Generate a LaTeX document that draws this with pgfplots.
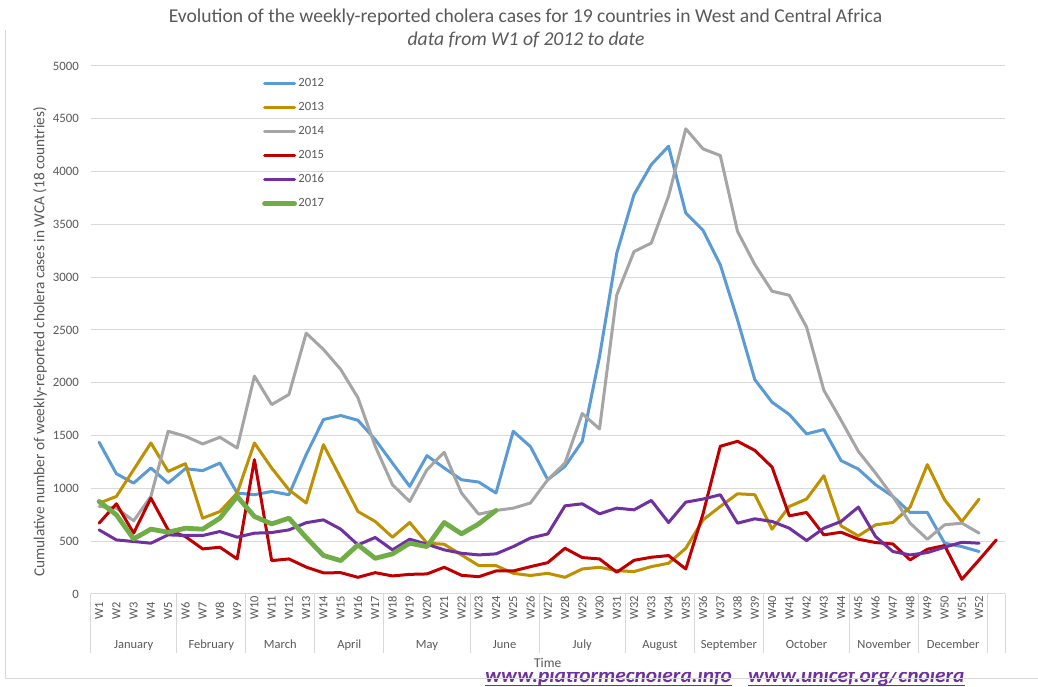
\documentclass[border=0pt]{standalone}
\usepackage{fontspec}
\setmainfont{Carlito}
\usepackage{pgfplots}
\usepackage{pgfplotstable}
\pgfplotsset{compat=1.18}

\definecolor{c12}{HTML}{5B9BD5}
\definecolor{c13}{HTML}{BF9000}
\definecolor{c14}{HTML}{A5A5A5}
\definecolor{c15}{HTML}{C00000}
\definecolor{c16}{HTML}{7030A0}
\definecolor{c17}{HTML}{70AD47}
\definecolor{txt}{HTML}{595959}
\definecolor{gridc}{HTML}{D9D9D9}

\pgfplotstableread{
w y12 y13 y14 y15 y16 y17
1 1437 860 829 671 607 876
2 1139 924 813 854 512 750
3 1050 1177 693 576 497 522
4 1193 1430 924 908 481 614
5 1050 1161 1541 607 560 585
6 1187 1234 1494 544 554 623
7 1168 718 1421 427 554 614
8 1240 781 1484 443 592 718
9 956 956 1383 332 538 924
10 940 1430 2063 1272 576 734
11 971 1193 1794 316 582 664
12 940 987 1889 332 607 718
13 1320 862 2470 255 675 535
14 1652 1414 2316 200 702 365
15 1690 1098 2127 202 614 316
16 1645 781 1858 158 465 465
17 1462 687 1399 202 535 338
18 1240 538 1035 171 418 380
19 1019 677 876 186 519 481
20 1310 481 1177 190 471 449
21 1193 471 1342 253 418 677
22 1082 370 956 177 386 570
23 1060 269 756 164 370 664
24 956 269 791 218 380 791
25 1541 196 813 218 449 nan
26 1395 175 862 259 530 nan
27 1082 196 1082 297 569 nan
28 1209 158 1240 433 835 nan
29 1446 237 1709 345 854 nan
30 2247 253 1563 332 759 nan
31 3228 221 2832 206 813 nan
32 3782 212 3243 319 797 nan
33 4066 259 3323 348 886 nan
34 4240 291 3766 364 677 nan
35 3607 433 4405 237 870 nan
36 3443 702 4215 760 899 nan
37 3117 829 4152 1399 940 nan
38 2595 949 3433 1446 671 nan
39 2030 940 3120 1360 712 nan
40 1816 614 2867 1202 687 nan
41 1700 829 2829 740 623 nan
42 1516 899 2528 772 506 nan
43 1557 1120 1930 560 623 nan
44 1263 645 1645 585 687 nan
45 1183 550 1351 519 823 nan
46 1035 655 1145 487 544 nan
47 924 677 924 474 402 nan
48 772 823 671 323 370 nan
49 772 1225 519 424 392 nan
50 481 892 655 459 443 nan
51 449 687 671 139 490 nan
52 402 899 576 323 481 nan
53 nan nan nan 513 nan nan
}\data

\newcommand{\mlab}[2]{\node[anchor=base, inner sep=0pt, font=\fontsize{12.5}{15}\selectfont, text=txt] at ([yshift=-55pt]axis cs:#1,0) {#2};}

\begin{document}
\begin{tikzpicture}[x=1pt,y=1pt]
\clip (0,0) rectangle (1038,687);
\fill[white] (0,0) rectangle (1038,687);
% source links (partly hidden below the chart area)
\node[anchor=base west, inner sep=0pt, text height=10pt, text depth=4pt, font=\fontsize{21.4}{25}\selectfont\bfseries\itshape, text=c16] (u1) at (485,4) {www.platformecholera.info};
\node[anchor=base west, inner sep=0pt, text height=10pt, text depth=4pt, font=\fontsize{21.4}{25}\selectfont\bfseries\itshape, text=c16] (u2) at (748,4) {www.unicef.org/cholera};
\draw[c16, line width=1.5pt] ([yshift=-2.5pt]u1.base west) -- ([yshift=-2.5pt]u1.base east);
\draw[c16, line width=1.5pt] ([yshift=-2.5pt]u2.base west) -- ([yshift=-2.5pt]u2.base east);
\fill[white] (0,15) rectangle (1038,687);
\draw[gridc, line width=1pt] (5,8) -- (1038,8);
\draw[gridc, line width=1pt] (5,8) -- (5,657);
% titles
\node[anchor=base, inner sep=0pt, font=\fontsize{19.6}{23}\selectfont, text=txt] at (525.5,664) {Evolution of the weekly-reported cholera cases for 19 countries in West and Central Africa};
\node[anchor=base, inner sep=0pt, font=\fontsize{19.6}{23}\selectfont\itshape, text=txt] at (526,641) {data from W1 of 2012 to date};
% y label
\node[rotate=90, inner sep=0pt, font=\fontsize{15.3}{18}\selectfont, text=txt] at (40,345) {Cumulative number of weekly-reported cholera cases in WCA (18 countries)};
\begin{axis}[
  at={(90.5pt,93pt)}, anchor=south west,
  scale only axis, width=914.5pt, height=528pt,
  xmin=0.5, xmax=53.5, ymin=0, ymax=5000,
  ytick={0,500,...,5000},
  xtick={1,...,52},
  xticklabels={W1,W2,W3,W4,W5,W6,W7,W8,W9,W10,W11,W12,W13,W14,W15,W16,W17,W18,W19,W20,W21,W22,W23,W24,W25,W26,W27,W28,W29,W30,W31,W32,W33,W34,W35,W36,W37,W38,W39,W40,W41,W42,W43,W44,W45,W46,W47,W48,W49,W50,W51,W52},
  /pgf/number format/assume math mode=true,
  /pgf/number format/1000 sep={},
  axis line style={draw=none},
  major tick length=0pt,
  tick style={draw=none},
  ymajorgrids,
  grid style={gridc, line width=1pt},
  xticklabel style={font=\fontsize{12.4}{14}\selectfont, text=txt, inner sep=0pt, yshift=-26pt, rotate=90, anchor=west},
  yticklabel style={font=\fontsize{12.8}{15}\selectfont, text=txt, inner sep=0pt, anchor=east, xshift=-11.5pt},
  clip=false,
  legend style={at={(0.1875,0.979)}, anchor=north west, draw=none, fill=none,
    inner sep=0pt, row sep=12.1pt, column sep=1.5pt,
    font=\fontsize{12.6}{15}\selectfont, text=txt,
    nodes={inner sep=0pt, text height=9pt, text depth=3pt}},
  legend cell align=left,
  legend image code/.code={\draw[#1] (0pt,0pt) -- (30pt,0pt);},
  every axis plot/.append style={line join=round, line cap=round},
]
\addplot[c12, line width=3pt] table[x=w, y=y12] {\data};
\addlegendentry{2012}
\addplot[c13, line width=3pt] table[x=w, y=y13] {\data};
\addlegendentry{2013}
\addplot[c14, line width=3pt] table[x=w, y=y14] {\data};
\addlegendentry{2014}
\addplot[c15, line width=3pt] table[x=w, y=y15] {\data};
\addlegendentry{2015}
\addplot[c16, line width=3pt] table[x=w, y=y16] {\data};
\addlegendentry{2016}
\addplot[c17, line width=4.8pt] table[x=w, y=y17] {\data};
\addlegendentry{2017}
% category separators
\pgfplotsinvokeforeach{0.5,5.5,9.5,13.5,17.5,22.5,26.5,31.5,35.5,39.5,44.5,48.5,52.5,53.5}{
  \draw[gridc, line width=1pt] (axis cs:#1,0) -- ++(0pt,-59pt);
}
% month labels
\mlab{3}{January}
\mlab{7.5}{February}
\mlab{11.5}{March}
\mlab{15.5}{April}
\mlab{20}{May}
\mlab{24.5}{June}
\mlab{29}{July}
\mlab{33.5}{August}
\mlab{37.5}{September}
\mlab{42}{October}
\mlab{46.5}{November}
\mlab{50.5}{December}
\node[anchor=base, inner sep=0pt, font=\fontsize{13.5}{15}\selectfont, text=txt] at ([yshift=-74pt]axis cs:27,0) {Time};
\end{axis}
\end{tikzpicture}
\end{document}
